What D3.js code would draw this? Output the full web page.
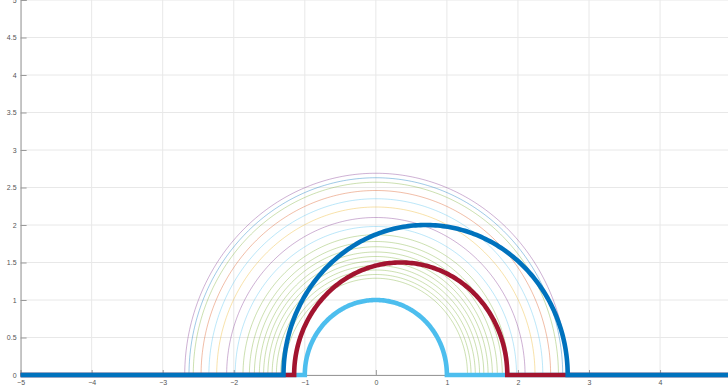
<!DOCTYPE html>
<html>
<head>
<meta charset="utf-8">
<script src="https://cdn.jsdelivr.net/npm/d3@7/dist/d3.min.js"></script>
<style>
  html, body { margin: 0; padding: 0; background: #fff; }
  svg { display: block; }
  .tick text { font-family: "Liberation Sans", Arial, sans-serif; font-size: 7px; fill: #555; }
</style>
</head>
<body>
<svg id="chart" width="728" height="389"></svg>
<script>
// Axis ticks
const xTicks = [-5, -4, -3, -2, -1, 0, 1, 2, 3, 4, 5];
const yTicks = [0, 0.5, 1, 1.5, 2, 2.5, 3, 3.5, 4, 4.5, 5];

// Thin concentric arcs centred at x = 0 (radius, colour)
const thinRadii  = [1.29, 1.34, 1.40, 1.46, 1.52, 1.58, 1.64, 1.71, 1.78, 1.87,
                    1.98, 2.10, 2.24, 2.35, 2.46, 2.57, 2.63, 2.69];
const thinColors = ["#77AC30", "#77AC30", "#77AC30", "#77AC30", "#77AC30",
                    "#77AC30", "#77AC30", "#77AC30", "#77AC30", "#77AC30",
                    "#4DBEEE", "#7E2F8E", "#EDB120", "#4DBEEE", "#D95319",
                    "#77AC30", "#0072BD", "#7E2F8E"];

// Thick profiles: flat at y = 0, semicircle of given centre/radius
const thickCenters = [0, 0.35, 0.7];
const thickRadii   = [1, 1.5, 2];
const thickColors  = ["#4DBEEE", "#A2142F", "#0072BD"];

const svg = d3.select("#chart");
const x = d3.scaleLinear().domain([-5, 5]).range([20.6, 731.1]);
const y = d3.scaleLinear().domain([0, 5]).range([375, 0]);

// Grid
const grid = svg.append("g");
grid.selectAll("line.gx").data(xTicks).join("line")
  .attr("x1", d => x(d)).attr("x2", d => x(d))
  .attr("y1", y(0)).attr("y2", y(5))
  .attr("stroke", "#e8e8e8").attr("stroke-width", 1);
grid.selectAll("line.gy").data(yTicks).join("line")
  .attr("x1", x(-5)).attr("x2", x(5))
  .attr("y1", d => y(d)).attr("y2", d => y(d))
  .attr("stroke", "#e8e8e8").attr("stroke-width", 1);

// Axes (ticks point inward)
const xAxis = d3.axisBottom(x).tickValues(xTicks).tickSize(-5).tickPadding(8)
  .tickFormat(d3.format("d"));
const yAxis = d3.axisLeft(y).tickValues(yTicks).tickSize(-6).tickPadding(4)
  .tickFormat(d => d);
const gx = svg.append("g").attr("transform", `translate(0,${y(0)})`).call(xAxis);
const gy = svg.append("g").attr("transform", `translate(${x(-5)},0)`).call(yAxis);
[gx, gy].forEach(g => {
  g.select(".domain").attr("stroke", "#9a9a9a").attr("stroke-width", 1);
  g.selectAll(".tick line").attr("stroke", "#9a9a9a");
});
gx.selectAll(".tick text").attr("dy", "0.3em");

const angles = d3.range(0, 181).map(i => Math.PI * i / 180);
const line = d3.line().x(d => x(d[0])).y(d => y(d[1]));

// Thin arcs
svg.append("g").selectAll("path").data(thinRadii).join("path")
  .attr("d", r => line(angles.map(a => [-r * Math.cos(a), r * Math.sin(a)])))
  .attr("fill", "none")
  .attr("stroke", (r, i) => thinColors[i])
  .attr("stroke-opacity", 0.42)
  .attr("stroke-width", 0.9);

// Thick profiles
svg.append("g").selectAll("path").data(thickRadii).join("path")
  .attr("d", (r, i) => {
    const c = thickCenters[i];
    const pts = [[-5, 0]].concat(
      angles.map(a => [c - r * Math.cos(a), r * Math.sin(a)]),
      [[5, 0]]);
    return line(pts);
  })
  .attr("fill", "none")
  .attr("stroke", (r, i) => thickColors[i])
  .attr("stroke-width", 4.6)
  .attr("stroke-linejoin", "miter")
  .attr("stroke-linecap", "butt");
</script>
</body>
</html>
